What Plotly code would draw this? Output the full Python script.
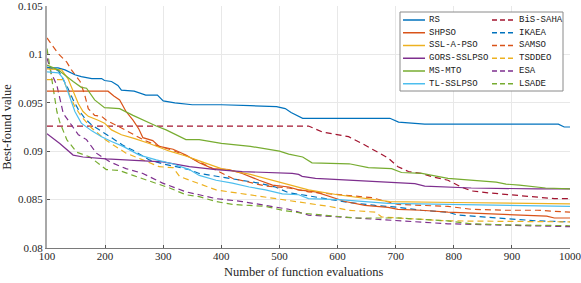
import plotly.graph_objects as go

# ---------------- data ----------------
names_solid = ["RS", "SHPSO", "SSL-A-PSO", "GORS-SSLPSO", "MS-MTO", "TL-SSLPSO"]
names_dashed = ["BiS-SAHA", "IKAEA", "SAMSO", "TSDDEO", "ESA", "LSADE"]

rs_x = [100,119,131,148,159,177,194,199,211,222,228,250,270,290,300,320,350,400,450,495,510,520,540,690,705,750,980,990,1000]
rs_y = [0.0986,0.0986,0.0984,0.0979,0.0977,0.0975,0.0975,0.0973,0.0972,0.0968,0.0963,0.0962,0.0958,0.0958,0.0952,0.0950,0.0948,0.0948,0.0947,0.0946,0.0944,0.0940,0.0934,0.0934,0.0930,0.0928,0.0928,0.0925,0.0925]

shpso_x = [100,205,215,225,236,248,258,265,282,293,317,339,362,385,413,436,465,488,516,533,562,613,647,687,704,744,790,830,887,960,973,1000]
shpso_y = [0.0962,0.0962,0.0957,0.0953,0.0941,0.0932,0.0923,0.0914,0.0911,0.0905,0.0902,0.0896,0.0888,0.0882,0.0881,0.0877,0.0870,0.0865,0.0863,0.0860,0.0858,0.0848,0.0844,0.0842,0.0840,0.0839,0.0837,0.0836,0.0835,0.0833,0.0831,0.0831]

sslapso_x = [100,125,136,145,154,162,171,188,199,211,228,251,276,311,339,362,400,450,500,550,600,650,690,800,1000]
sslapso_y = [0.0985,0.0984,0.0975,0.0961,0.0949,0.0941,0.0936,0.0932,0.0929,0.0922,0.0917,0.0913,0.0908,0.0900,0.0895,0.0890,0.0882,0.0876,0.0868,0.0860,0.0855,0.0851,0.0848,0.0847,0.08455]

gors_x = [100,122,145,162,202,259,299,345,391,436,493,522,533,539,562,619,676,704,733,750,790,830,944,1000]
gors_y = [0.0918,0.0908,0.0896,0.0894,0.0892,0.0890,0.0889,0.0884,0.0881,0.0879,0.0878,0.0877,0.0876,0.0874,0.0872,0.0870,0.0868,0.0867,0.08665,0.0864,0.0863,0.0862,0.0861,0.0861]

msmto_x = [100,119,145,159,168,182,199,225,248,265,288,305,339,362,400,450,500,516,540,556,620,653,693,710,745,790,830,873,890,913,958,1000]
msmto_y = [0.0989,0.0984,0.0972,0.0966,0.0965,0.0953,0.0945,0.0944,0.0937,0.0932,0.0926,0.0922,0.0912,0.0912,0.0908,0.0905,0.0900,0.0897,0.0894,0.0888,0.0887,0.0883,0.0882,0.0878,0.0877,0.0872,0.0870,0.0868,0.0866,0.0865,0.0862,0.0861]

tl_x = [100,120,128,134,139,148,159,177,194,211,231,259,288,316,345,362,391,419,448,476,505,533,550,602,687,1000]
tl_y = [0.0982,0.0981,0.0975,0.0965,0.0955,0.0941,0.0929,0.0921,0.0915,0.0910,0.0905,0.0896,0.0891,0.0887,0.0881,0.0875,0.0870,0.0867,0.0863,0.0860,0.0856,0.0855,0.0851,0.0850,0.0846,0.0843]

bis_x = [100,550,573,602,619,642,665,687,704,722,744,767,790,813,830,859,916,973,1000]
bis_y = [0.0926,0.0926,0.0920,0.0917,0.0915,0.0908,0.0900,0.0893,0.0884,0.0879,0.0877,0.0873,0.0870,0.0863,0.0859,0.0857,0.0854,0.0851,0.0851]

ikaea_x = [100,120,136,145,154,165,177,191,211,231,248,276,299,322,345,362,391,436,465,493,516,539,585,619,665,704,744,790,807,853,887,944,1000]
ikaea_y = [0.0987,0.0983,0.0965,0.0953,0.0943,0.0934,0.0927,0.0922,0.0914,0.0906,0.0901,0.0891,0.0887,0.0884,0.0881,0.0877,0.0874,0.0870,0.0867,0.0863,0.0857,0.0855,0.0850,0.0847,0.0844,0.0842,0.0839,0.0837,0.0834,0.0832,0.0831,0.0828,0.0827]

samso_x = [100,119,134,142,157,165,171,182,194,202,225,248,265,288,316,345,362,419,476,516,550,602,659,704,744,790,830,887,944,1000]
samso_y = [0.1017,0.1001,0.0992,0.0984,0.0972,0.0958,0.0944,0.0937,0.0936,0.0932,0.0925,0.0918,0.0912,0.0906,0.0901,0.0894,0.0889,0.0872,0.0864,0.0862,0.0858,0.0855,0.0852,0.0845,0.0844,0.0843,0.0840,0.0839,0.0839,0.0837]

tsddeo_x = [100,128,139,148,159,175,200,236,265,293,317,328,350,391,448,493,533,585,619,665,676,704,744,790,1000]
tsddeo_y = [0.0974,0.0974,0.0958,0.0946,0.0936,0.0925,0.0912,0.0898,0.0891,0.0884,0.0883,0.0874,0.0869,0.0860,0.0855,0.0851,0.0848,0.0843,0.0839,0.0837,0.0832,0.0831,0.0829,0.0828,0.0827]

esa_x = [100,108,117,128,154,168,185,208,236,265,299,339,362,391,436,476,516,533,550,630,704,790,1000]
esa_y = [0.0996,0.0980,0.0968,0.0939,0.0917,0.0912,0.0898,0.0889,0.0882,0.0877,0.0867,0.0858,0.0855,0.0851,0.0848,0.0844,0.0840,0.0837,0.0834,0.0831,0.0828,0.0825,0.0822]

lsade_x = [100,111,117,122,134,151,174,202,225,248,276,311,339,362,391,419,448,476,505,533,539,630,704,790,830,887,1000]
lsade_y = [0.1006,0.0961,0.0941,0.0930,0.0912,0.0899,0.0894,0.0881,0.0880,0.0875,0.0869,0.0862,0.0855,0.0853,0.0848,0.0845,0.0844,0.0843,0.0839,0.0837,0.0836,0.0831,0.0831,0.0828,0.0825,0.0824,0.0823]

x_ticks = [100, 200, 300, 400, 500, 600, 700, 800, 900, 1000]
x_ticktext = ["100", "200", "300", "400", "500", "600", "700", "800", "900", "1000"]
y_ticks = [0.08, 0.085, 0.09, 0.095, 0.1, 0.105]
y_ticktext = ["0.08", "0.085", "0.09", "0.095", "0.1", "0.105"]

# ---------------- styles ----------------
colors = ["#0072BD", "#D95319", "#EDB120", "#7E2F8E", "#77AC30", "#4DBEEE"]
colors_dashed = ["#A2142F", "#0072BD", "#D95319", "#EDB120", "#7E2F8E", "#77AC30"]
DASH = "6px,4px"
LW = 1.2

solid_data = [(rs_x, rs_y), (shpso_x, shpso_y), (sslapso_x, sslapso_y),
              (gors_x, gors_y), (msmto_x, msmto_y), (tl_x, tl_y)]
dashed_data = [(bis_x, bis_y), (ikaea_x, ikaea_y), (samso_x, samso_y),
               (tsddeo_x, tsddeo_y), (esa_x, esa_y), (lsade_x, lsade_y)]

fig = go.Figure()
for name, (xs, ys), c in zip(names_dashed, dashed_data, colors_dashed):
    fig.add_trace(go.Scatter(x=xs, y=ys, mode="lines", name=name,
                             line=dict(color=c, width=LW, dash=DASH), showlegend=False))
for name, (xs, ys), c in zip(names_solid, solid_data, colors):
    fig.add_trace(go.Scatter(x=xs, y=ys, mode="lines", name=name,
                             line=dict(color=c, width=LW), showlegend=False))

W, H = 581, 283
ML, MR, MT, MB = 47, 11, 6, 35
PW, PH = W - ML - MR, H - MT - MB

def px2paper_x(px):
    return (px - ML) / PW

def py2paper_y(py):
    return (H - MB - py) / PH

# ---------------- legend (two columns inside a single box) ----------------
shapes = []
annotations = []
box = dict(x0=400, x1=563, y0=12, y1=91)
shapes.append(dict(type="rect", xref="paper", yref="paper",
                   x0=px2paper_x(box["x0"]), x1=px2paper_x(box["x1"]),
                   y0=py2paper_y(box["y1"]), y1=py2paper_y(box["y0"]),
                   line=dict(color="#8a8a8a", width=1), fillcolor="white", layer="above"))
row0, row_step = 20.0, 12.75
cols = [(403, 425, 427, names_solid, colors, None),
        (492, 515, 517, names_dashed, colors_dashed, DASH)]
for lx0, lx1, tx, names, cl, dash in cols:
    for i, (nm, c) in enumerate(zip(names, cl)):
        yy = py2paper_y(row0 + i * row_step)
        ln = dict(color=c, width=1.5)
        if dash:
            ln["dash"] = "5px,3px"
        shapes.append(dict(type="line", xref="paper", yref="paper",
                           x0=px2paper_x(lx0), x1=px2paper_x(lx1), y0=yy, y1=yy,
                           line=ln, layer="above"))
        annotations.append(dict(xref="paper", yref="paper", x=px2paper_x(tx), y=yy,
                                text=nm, showarrow=False, xanchor="left", yanchor="middle",
                                font=dict(family="Liberation Mono, DejaVu Sans Mono, monospace",
                                          size=9, color="#1a1a1a")))

serif = "Liberation Serif, DejaVu Serif, serif"
annotations.append(dict(xref="paper", yref="paper", x=px2paper_x(303), y=py2paper_y(272),
                        text="Number of function evaluations", showarrow=False,
                        xanchor="center", yanchor="middle",
                        font=dict(family=serif, size=12.5, color="#262626")))

fig.update_layout(
    width=W, height=H,
    margin=dict(l=ML, r=MR, t=MT, b=MB, autoexpand=False),
    paper_bgcolor="white", plot_bgcolor="white",
    font=dict(family=serif, size=11, color="#262626"),
    showlegend=False,
    shapes=shapes,
    annotations=annotations,
    xaxis=dict(range=[100, 1000.0001], tickvals=x_ticks, ticktext=x_ticktext,
               ticks="inside", ticklen=3,
               tickcolor="#555", showgrid=True, gridcolor="#e8e8e8", gridwidth=1,
               showline=True, linecolor="#7a7a7a", linewidth=1, zeroline=False,
               ticklabelstandoff=-2, ticklabeloverflow="allow",
               tickfont=dict(family=serif, size=11, color="#262626")),
    yaxis=dict(range=[0.08, 0.1050001], tickvals=y_ticks, ticktext=y_ticktext,
               ticks="inside", ticklen=3, tickcolor="#555",
               showgrid=True, gridcolor="#e8e8e8", gridwidth=1,
               showline=True, linecolor="#a8a8a8", linewidth=2, zeroline=False,
               ticklabeloverflow="allow",
               tickfont=dict(family=serif, size=11, color="#262626"),
               title=dict(text="Best-found value",
                          font=dict(family=serif, size=12.5, color="#262626"), standoff=6)),
)

fig.write_html("out.html", config={"displayModeBar": False},
               post_script="document.body.style.margin='0';document.body.style.padding='0';")
